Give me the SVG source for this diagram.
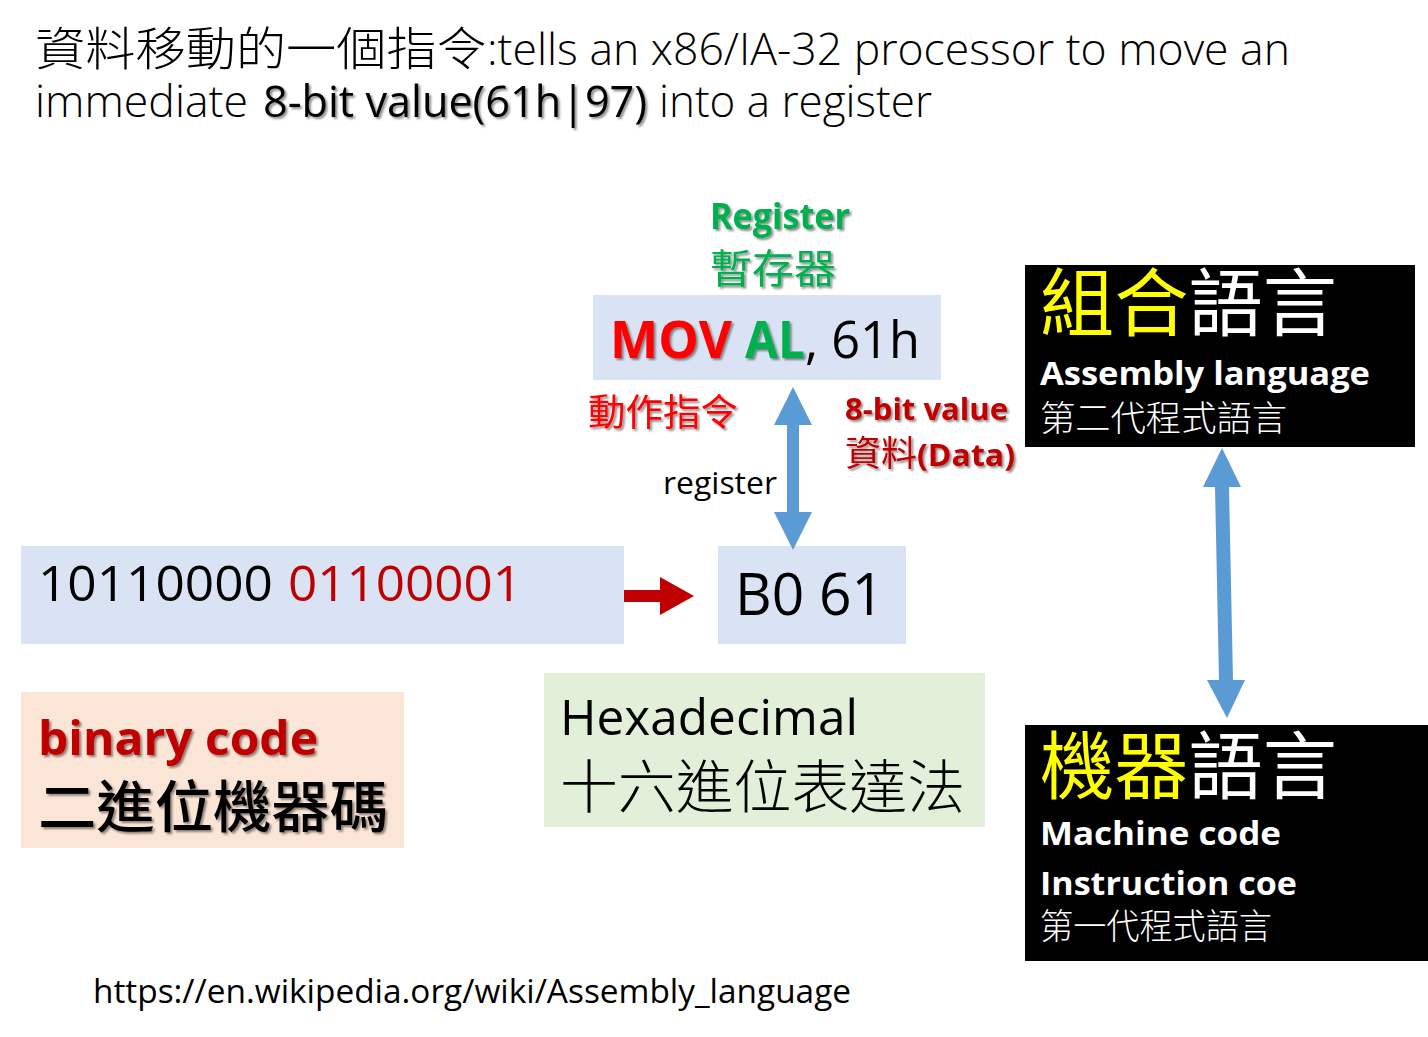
<svg xmlns="http://www.w3.org/2000/svg" width="1428" height="1037" viewBox="0 0 1428 1037">
  <defs>
    <filter id="shadow" x="-10%" y="-20%" width="120%" height="150%">
      <feDropShadow dx="2" dy="2" stdDeviation="1.2" flood-color="#000" flood-opacity="0.45"/>
    </filter>
  </defs>
  <style>
    text { font-family: "Open Sans", "Noto Sans CJK TC", sans-serif; }
    .cjk { font-family: "Noto Sans CJK TC", sans-serif; }
    .light { font-weight: 300; }
    .bold { font-weight: 700; }
    .sh { filter: url(#shadow); }
    .blue { fill: #DAE3F3; }
    .peach { fill: #FBE5D6; }
    .green { fill: #E2F0D9; }
    .panel { fill: #000000; }
    .conn { fill: #5B9BD5; }
  </style>

  <!-- heading -->
  <g id="title">
    <text class="cjk light" x="35" y="65" font-size="46" textLength="452" lengthAdjust="spacingAndGlyphs">資料移動的一個指令</text>
    <text class="light" x="487" y="65" font-size="44" textLength="803" lengthAdjust="spacingAndGlyphs">:tells an x86/IA-32 processor to move an</text>
    <text class="light" x="35" y="117" font-size="44" textLength="213" lengthAdjust="spacingAndGlyphs">immediate</text>
    <text class="sh" x="263" y="117" font-size="44" textLength="384" lengthAdjust="spacingAndGlyphs">8-bit value(61h|97)</text>
    <text class="light" x="659" y="117" font-size="44" textLength="273" lengthAdjust="spacingAndGlyphs">into a register</text>
  </g>

  <!-- register label -->
  <g id="register-label">
    <text class="bold sh" x="710" y="229" font-size="35" fill="#00B050" textLength="140" lengthAdjust="spacingAndGlyphs">Register</text>
    <text class="cjk sh" x="710" y="283" font-size="40" fill="#00B050" textLength="126" lengthAdjust="spacingAndGlyphs">暫存器</text>
  </g>

  <!-- assembly instruction -->
  <g id="mov-instruction">
    <rect class="blue" x="593" y="295" width="348" height="85"/>
    <text class="bold sh" x="610" y="358" font-size="52" fill="#FF0000" textLength="122" lengthAdjust="spacingAndGlyphs">MOV</text>
    <text class="bold sh" x="745" y="358" font-size="52" fill="#00B050" textLength="60" lengthAdjust="spacingAndGlyphs">AL</text>
    <text x="805" y="358" font-size="52" fill="#000" textLength="115" lengthAdjust="spacingAndGlyphs">, 61h</text>
  </g>

  <g id="opcode-label">
    <text class="cjk sh" x="588" y="426" font-size="37" fill="#FF0000" textLength="150" lengthAdjust="spacingAndGlyphs">動作指令</text>
  </g>

  <g id="data-label">
    <text class="bold sh" x="845" y="420" font-size="31" fill="#C00000" textLength="163" lengthAdjust="spacingAndGlyphs">8-bit value</text>
    <text class="cjk sh" x="845" y="466" font-size="35" fill="#C00000" textLength="72" lengthAdjust="spacingAndGlyphs">資料</text>
    <text class="bold sh" x="917" y="466" font-size="31" fill="#C00000" textLength="98" lengthAdjust="spacingAndGlyphs">(Data)</text>
  </g>

  <g id="register-note">
    <text x="663" y="494" font-size="31" fill="#000" textLength="114" lengthAdjust="spacingAndGlyphs">register</text>
  </g>

  <!-- machine code bytes -->
  <g id="binary">
    <rect class="blue" x="21" y="546" width="603" height="98"/>
    <text x="38" y="601" font-size="50" fill="#000" textLength="235" lengthAdjust="spacingAndGlyphs">10110000</text>
    <text x="288" y="601" font-size="50" fill="#C00000" textLength="234" lengthAdjust="spacingAndGlyphs">01100001</text>
  </g>

  <g id="hex">
    <rect class="blue" x="718" y="546" width="188" height="98"/>
    <text x="735" y="615" font-size="58" fill="#000" textLength="149" lengthAdjust="spacingAndGlyphs">B0 61</text>
  </g>

  <g id="binary-caption">
    <rect class="peach" x="21" y="692" width="383" height="156"/>
    <text class="bold sh" x="38" y="755" font-size="46" fill="#C00000" textLength="280" lengthAdjust="spacingAndGlyphs">binary code</text>
    <text class="cjk sh" x="38" y="827" font-size="56" font-weight="500" fill="#000" textLength="350" lengthAdjust="spacingAndGlyphs">二進位機器碼</text>
  </g>

  <g id="hex-caption">
    <rect class="green" x="544" y="673" width="441" height="154"/>
    <text x="560" y="735" font-size="50" fill="#000" textLength="298" lengthAdjust="spacingAndGlyphs">Hexadecimal</text>
    <text class="cjk light" x="560" y="808" font-size="58" fill="#000" textLength="405" lengthAdjust="spacingAndGlyphs">十六進位表達法</text>
  </g>

  <!-- language panels -->
  <g id="assembly-language">
    <rect class="panel" x="1025" y="265" width="390" height="182"/>
    <text class="cjk" x="1040" y="330" font-size="74" textLength="297" lengthAdjust="spacingAndGlyphs"><tspan fill="#FFFF00">組合</tspan><tspan fill="#FFFFFF">語言</tspan></text>
    <text class="bold" x="1040" y="385" font-size="33" fill="#FFF" textLength="330" lengthAdjust="spacingAndGlyphs">Assembly language</text>
    <text class="cjk light" x="1040" y="431" font-size="35" fill="#FFF" textLength="247" lengthAdjust="spacingAndGlyphs">第二代程式語言</text>
  </g>

  <g id="machine-language">
    <rect class="panel" x="1025" y="725" width="403" height="236"/>
    <text class="cjk" x="1040" y="793" font-size="74" textLength="297" lengthAdjust="spacingAndGlyphs"><tspan fill="#FFFF00">機器</tspan><tspan fill="#FFFFFF">語言</tspan></text>
    <text class="bold" x="1040" y="845" font-size="33" fill="#FFF" textLength="241" lengthAdjust="spacingAndGlyphs">Machine code</text>
    <text class="bold" x="1040" y="895" font-size="33" fill="#FFF" textLength="257" lengthAdjust="spacingAndGlyphs">Instruction coe</text>
    <text class="cjk light" x="1040" y="939" font-size="35" fill="#FFF" textLength="232" lengthAdjust="spacingAndGlyphs">第一代程式語言</text>
  </g>

  <g id="source">
    <text x="93" y="1003" font-size="32" fill="#000" textLength="758" lengthAdjust="spacingAndGlyphs">https://en.wikipedia.org/wiki/Assembly_language</text>
  </g>

  <!-- connectors -->
  <g id="connectors">
    <!-- MOV AL, 61h <-> B0 61 -->
    <polygon class="conn" points="793,387 812,425 799,425 799,512 812,512 793,550 774,512 787,512 787,425 774,425"/>
    <!-- binary -> hex -->
    <polygon fill="#C00000" points="624,590 660,590 660,577 694,596 660,615 660,602 624,602"/>
    <!-- assembly <-> machine -->
    <polygon class="conn" points="1222,448 1241,487 1229,487 1233,680 1245,680 1227,718 1207,680 1219,680 1215,487 1203,487"/>
  </g>
</svg>
